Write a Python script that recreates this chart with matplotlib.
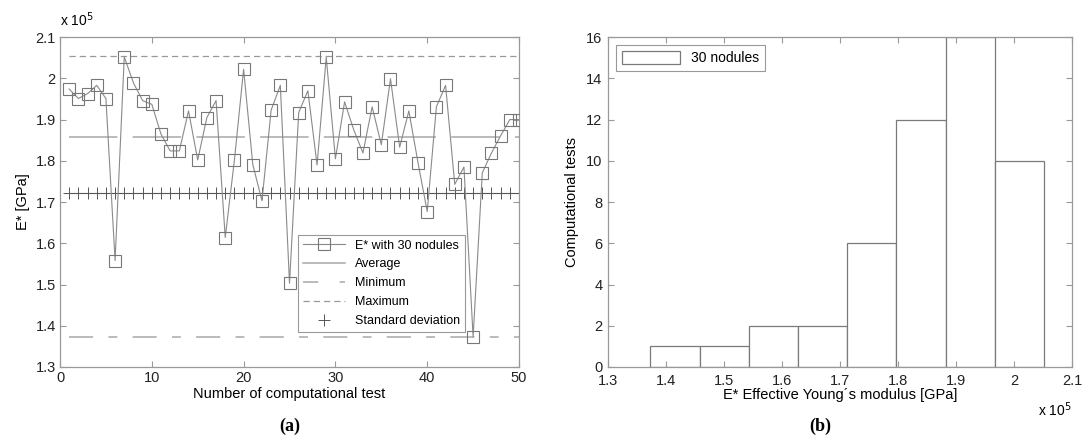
import matplotlib
matplotlib.use("Agg")
import matplotlib.pyplot as plt
from matplotlib.lines import Line2D
from matplotlib.patches import Patch

plt.rcParams['font.family'] = ['Liberation Sans', 'DejaVu Sans']

# E* values of the 50 computational tests (x 10^5 GPa)
test_no = list(range(1, 51))
e_star = [1.974, 1.951, 1.963, 1.983, 1.951, 1.558, 2.052, 1.989, 1.946, 1.937,
          1.865, 1.824, 1.824, 1.921, 1.802, 1.905, 1.946, 1.614, 1.802, 2.022,
          1.791, 1.703, 1.923, 1.983, 1.503, 1.917, 1.970, 1.790, 2.051, 1.805,
          1.943, 1.875, 1.819, 1.931, 1.839, 1.999, 1.833, 1.921, 1.795, 1.677,
          1.931, 1.983, 1.743, 1.785, 1.373, 1.771, 1.819, 1.861, 1.900, 1.900]

# reference lines
avg_val = 1.858
min_val = 1.372
max_val = 2.054
std_val = 1.721

hist_bins = 8

gray = '#8a8a8a'
tick_col = '#222222'

fig = plt.figure(figsize=(10.89, 4.47), dpi=100)
ax1 = fig.add_axes([0.0551, 0.179, 0.4215, 0.738])
ax2 = fig.add_axes([0.5583, 0.179, 0.426, 0.738])

for ax in (ax1, ax2):
    for s in ax.spines.values():
        s.set_color('#999999')
        s.set_linewidth(0.9)
    ax.tick_params(direction='in', top=True, right=True, length=4,
                   color='#999999', labelsize=10.5, labelcolor=tick_col, pad=3)
ax2.tick_params(axis='x', pad=5)
ax2.tick_params(axis='y', pad=4)

# ---- (a) ----
x0, x1 = test_no[0], test_no[-1]
ax1.plot([x0, x1], [avg_val, avg_val], color='#a8a8a8', lw=1.1,
         dashes=(31.7, 10), zorder=1)
ax1.plot([x0, x1], [min_val, min_val], color='#a8a8a8', lw=1.1,
         dashes=(15.8, 10, 5.8, 10), zorder=1)
ax1.plot([x0, x1], [max_val, max_val], color='#999999', lw=0.9,
         dashes=(5, 3.2), zorder=1)
ax1.plot(test_no, [std_val] * len(test_no), color='#555555', lw=0.8,
         marker='+', ms=8, mew=0.7, zorder=1)
ax1.plot(test_no, e_star, color=gray, lw=0.8, marker='s', ms=8,
         mfc='none', mec='#777777', mew=0.8, zorder=3)

ax1.set_xlim(0, 50)
ax1.set_ylim(1.3, 2.1)
ax1.set_xticks([0, 10, 20, 30, 40, 50])
yt = [1.3, 1.4, 1.5, 1.6, 1.7, 1.8, 1.9, 2.0, 2.1]
ax1.set_yticks(yt)
ax1.set_yticklabels(['%g' % v for v in yt])
ax1.set_xlabel('Number of computational test', fontsize=10.5, labelpad=1)
ax1.set_ylabel('E* [GPa]', fontsize=10.5, labelpad=4)
ax1.text(0.0, 1.025, r'x 10$^{5}$', transform=ax1.transAxes, fontsize=10,
         ha='left', va='bottom')

handles = [
    Line2D([], [], color=gray, lw=0.8, marker='s', ms=8, mfc='none', mec='#777777', mew=0.8),
    Line2D([], [], color='#a8a8a8', lw=1.1),
    Line2D([], [], color='#a8a8a8', lw=1.1, dashes=(10, 14)),
    Line2D([], [], color='#999999', lw=0.9, dashes=(5, 3.2)),
    Line2D([], [], color='#555555', lw=0, marker='+', ms=8, mew=0.7),
]
labels = ['E* with 30 nodules', 'Average', 'Minimum', 'Maximum', 'Standard deviation']
leg = ax1.legend(handles, labels, loc='lower right', bbox_to_anchor=(0.882, 0.106),
                 fontsize=9, fancybox=False, framealpha=1, edgecolor='#999999',
                 borderpad=0.4, labelspacing=0.55, handlelength=3.3, borderaxespad=0)
leg.get_frame().set_linewidth(0.8)

# ---- (b) ----
ax2.hist(e_star, bins=hist_bins, facecolor='white', edgecolor='#7a7a7a',
         linewidth=0.9, label='30 nodules')
ax2.set_xlim(1.3, 2.1)
ax2.set_ylim(0, 16)
ax2.set_xticks(yt)
ax2.set_xticklabels(['%g' % v for v in yt])
ax2.set_yticks(range(0, 17, 2))
ax2.set_xlabel('E* Effective Young\u00b4s modulus [GPa]', fontsize=10.5, labelpad=0)
ax2.set_ylabel('Computational tests', fontsize=10.5, labelpad=5)
ax2.text(1.0, -0.1, r'x 10$^{5}$', transform=ax2.transAxes, fontsize=10,
         ha='right', va='top')
leg2 = ax2.legend(handles=[Patch(facecolor='white', edgecolor='#7a7a7a', lw=0.9)],
                  labels=['30 nodules'], loc='upper left', fontsize=10,
                  fancybox=False, framealpha=1, edgecolor='#999999',
                  borderaxespad=0.6, handlelength=4.2, handleheight=1.1)
leg2.get_frame().set_linewidth(0.8)

fig.text(0.266, 0.035, '(a)', fontsize=13, fontweight='bold',
         family=['Liberation Serif', 'DejaVu Serif'], ha='center')
fig.text(0.753, 0.035, '(b)', fontsize=13, fontweight='bold',
         family=['Liberation Serif', 'DejaVu Serif'], ha='center')

fig.savefig('out.png', dpi=100, facecolor='white')
